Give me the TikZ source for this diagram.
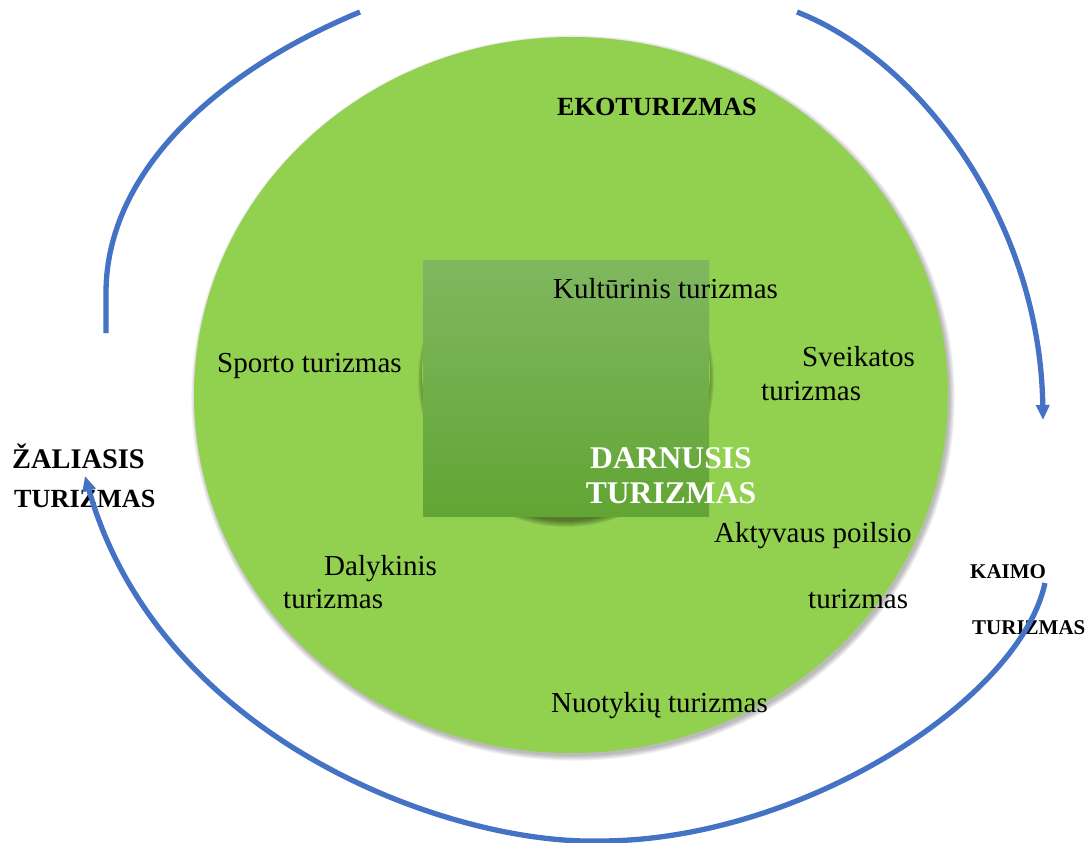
\documentclass[tikz,border=0pt]{standalone}
\usepackage{fontspec}
\setmainfont{Liberation Serif}
\usetikzlibrary{arrows.meta}
\definecolor{leafgreen}{HTML}{92D050}
\definecolor{arcblue}{HTML}{4472C4}
\definecolor{sqtop}{RGB}{128,183,96}
\definecolor{sqbot}{RGB}{98,165,52}
\tikzset{
  lbl/.style={anchor=base west,inner sep=0pt,font=\fontsize{29}{33}\selectfont},
  boldlbl/.style={anchor=base west,inner sep=0pt,font=\fontsize{26.2}{30}\selectfont\bfseries},
  smallbold/.style={anchor=base west,inner sep=0pt,font=\fontsize{21}{25}\selectfont\bfseries},
  centerlbl/.style={anchor=base,inner sep=0pt,font=\fontsize{31.6}{35}\selectfont\bfseries,text=white},
  arcline/.style={draw=arcblue,line width=5.3pt},
  arctip/.style={-{Triangle[length=15pt,width=13pt]}}
}
\begin{document}
\begin{tikzpicture}[x=1pt,y=-1pt]
\useasboundingbox (0,0) rectangle (1088,843);
% shadow of the big green ellipse
\foreach \i in {0,...,6}
  \fill[black,opacity=0.045] (573,398) ellipse ({377+\i*0.8} and {358+\i*0.8});
\fill[leafgreen] (571,395) ellipse (377 and 358);
% inner circle (same green) with a soft shadow cast downwards
\foreach \i in {0,...,6}
  \fill[black,opacity=0.07] (566,379) circle ({148-\i});
\fill[leafgreen] (566,373) circle (144);
% center square
\shade[top color=sqtop,bottom color=sqbot] (423,260) rectangle (709,516);
% texts
\node[boldlbl] (eko) at (557,115) {EKOTURIZMAS};
\node[lbl] (kult) at (553,298) {Kultūrinis turizmas};
\node[lbl] (sporto) at (217,372) {Sporto turizmas};
\node[lbl] (sveik1) at (802,366) {Sveikatos};
\node[lbl] (sveik2) at (761,400) {turizmas};
\node[lbl] (dalyk1) at (324,575) {Dalykinis};
\node[lbl] (dalyk2) at (283,608) {turizmas};
\node[lbl] (akt1) at (714,542) {Aktyvaus poilsio};
\node[lbl] (akt2) at (808,608) {turizmas};
\node[lbl] (nuot) at (551,712) {Nuotykių turizmas};
\node[centerlbl] (darn1) at (671,468) {DARNUSIS};
\node[centerlbl] (darn2) at (671,503) {TURIZMAS};
\node[boldlbl,font=\fontsize{28.4}{32}\selectfont\bfseries] (zal1) at (12,468) {ŽALIASIS};
\node[boldlbl] (zal2) at (14,507) {TURIZMAS};
\node[smallbold] (kaimo1) at (970,578) {KAIMO};
\node[smallbold] (kaimo2) at (972,634) {TURIZMAS};
% arcs
\coordinate (tlA) at (106,333);
\coordinate (tlB) at (106,293);
\coordinate (tlC) at (360,12);
\coordinate (trA) at (797,12);
\coordinate (trB) at (1043,420);
\coordinate (bA) at (1045,583);
\coordinate (bB) at (600,841);
\coordinate (bC) at (85,476);
\draw[arcline] (tlA) -- (tlB) .. controls (106,170) and (220,70) .. (tlC);
\draw[arcline,arctip] (trA) .. controls (920,60) and (1040,220) .. (trB);
\draw[arcline,arctip] (bA) .. controls (1020,700) and (800,841) .. (bB)
   .. controls (450,845) and (160,740) .. (bC);
\end{tikzpicture}
\end{document}
